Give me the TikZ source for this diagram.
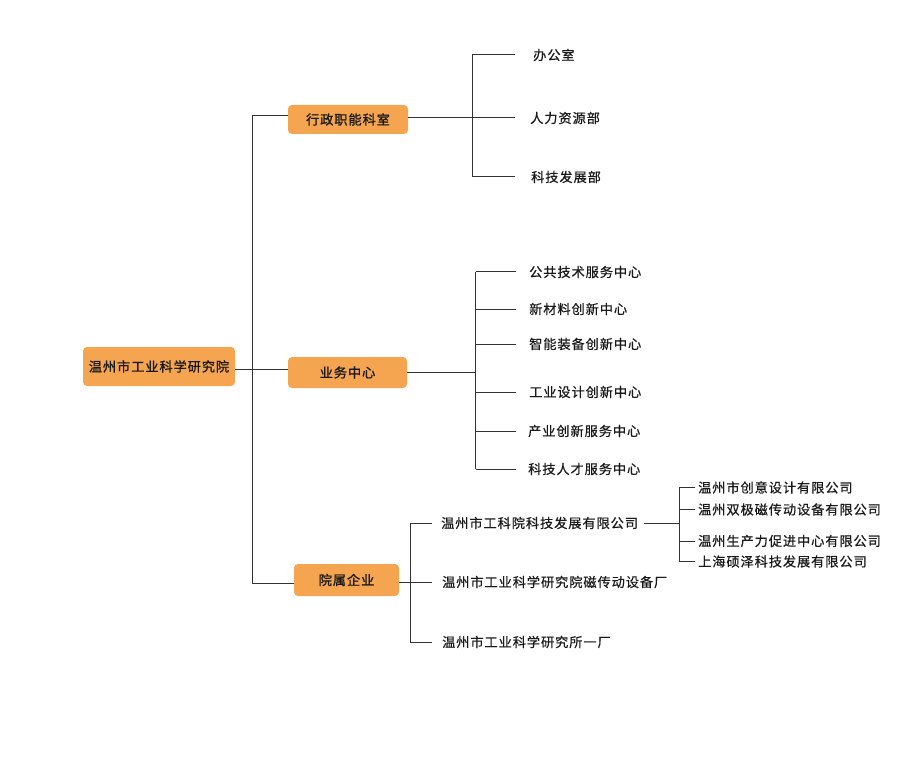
\documentclass[tikz,border=0pt]{standalone}
\usepackage{fontspec}
\setmainfont{Noto Sans CJK SC}
\newfontfamily\lblfont[FakeBold=0.6,LetterSpace=7]{Noto Sans CJK SC}
\newfontfamily\boxfont[FakeBold=1.2,LetterSpace=7]{Noto Sans CJK SC}
\definecolor{boxorange}{RGB}{245,165,80}
\definecolor{linec}{RGB}{51,51,51}
\definecolor{txt}{RGB}{25,25,25}
\begin{document}
\begin{tikzpicture}[x=1pt,y=-1pt,
  box/.style={fill=boxorange, rounded corners=4pt, inner sep=0pt, text=txt,
    font=\boxfont\fontsize{13.2}{13}\selectfont},
  lbl/.style={anchor=west, inner sep=0pt, text=txt,
    font=\lblfont\fontsize{13.2}{13}\selectfont},
  conn/.style={draw=linec, line width=1pt}]
\useasboundingbox (0,0) rectangle (900,770);

% level-1 boxes
\node[box, minimum width=152pt, minimum height=39pt] (root) at (159,366.5) {温州市工业科学研究院};
\node[box, minimum width=120pt, minimum height=29pt] (xz) at (348,119.5) {行政职能科室};
\node[box, minimum width=119pt, minimum height=31pt] (yw) at (347.5,372.5) {业务中心};
\node[box, minimum width=105pt, minimum height=32pt] (ys) at (346.5,580) {院属企业};

% trunk
\coordinate (rj) at (252.7,369);
\coordinate (ttop) at (252.7,116);
\coordinate (tbot) at (252.7,583);
\draw[conn] (root.east |- rj) -- (yw.west |- rj);
\draw[conn] (xz.west |- ttop) -- (ttop) -- (tbot) -- (ys.west |- tbot);

% 行政职能科室 children
\node[lbl] (a1) at (533,55) {办公室};
\node[lbl] (a2) at (530,118) {人力资源部};
\node[lbl] (a3) at (531,177) {科技发展部};
\coordinate (avx) at (472.3,0);
\coordinate (aex) at (515,0);
\draw[conn] (xz.east |- a2.west) -- (avx |- a2.west);
\draw[conn] (avx |- a1.west) -- (avx |- a3.west);
\foreach \n in {a1,a2,a3}{\draw[conn] (avx |- \n.west) -- (aex |- \n.west);}

% 业务中心 children
\node[lbl] (b1) at (529,272) {公共技术服务中心};
\node[lbl] (b2) at (529,309) {新材料创新中心};
\node[lbl] (b3) at (529,344) {智能装备创新中心};
\node[lbl] (b4) at (529,392) {工业设计创新中心};
\node[lbl] (b5) at (528,431) {产业创新服务中心};
\node[lbl] (b6) at (528,469) {科技人才服务中心};
\coordinate (bvx) at (475.7,0);
\coordinate (bex) at (516,0);
\coordinate (bj) at (0,372.3);
\draw[conn] (yw.east |- bj) -- (bvx |- bj);
\draw[conn] (bvx |- b1.west) -- (bvx |- b6.west);
\foreach \n in {b1,b2,b3,b4,b5,b6}{\draw[conn] (bvx |- \n.west) -- (bex |- \n.west);}

% 院属企业 children
\node[lbl] (c1) at (441,523) {温州市工科院科技发展有限公司};
\node[lbl] (c2) at (442,582) {温州市工业科学研究院磁传动设备厂};
\node[lbl] (c3) at (442,642) {温州市工业科学研究所一厂};
\coordinate (cvx) at (410,0);
\coordinate (cex) at (432,0);
\draw[conn] (ys.east |- c2.west) -- (cvx |- c2.west);
\draw[conn] (cvx |- c1.west) -- (cvx |- c3.west);
\foreach \n in {c1,c2,c3}{\draw[conn] (cvx |- \n.west) -- (cex |- \n.west);}

% subsidiaries of c1
\node[lbl] (d1) at (698,487.5) {温州市创意设计有限公司};
\node[lbl] (d2) at (698,509.5) {温州双极磁传动设备有限公司};
\node[lbl] (d3) at (698,541) {温州生产力促进中心有限公司};
\node[lbl] (d4) at (698,561.5) {上海硕泽科技发展有限公司};
\coordinate (dvx) at (679,0);
\coordinate (dex) at (695,0);
\draw[conn] ([xshift=6pt]c1.east) -- (dvx |- c1.east);
\draw[conn] (dvx |- d1.west) -- (dvx |- d4.west);
\foreach \n in {d1,d2,d3,d4}{\draw[conn] (dvx |- \n.west) -- (dex |- \n.west);}
\end{tikzpicture}
\end{document}
